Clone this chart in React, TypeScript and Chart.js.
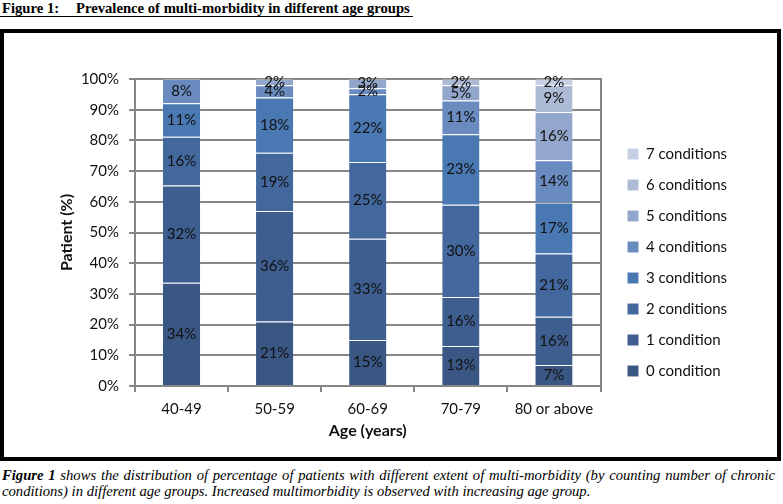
import React, { useEffect, useRef } from "react";
import { Chart, registerables } from "chart.js";

Chart.register(...registerables);

const categories = ["40-49", "50-59", "60-69", "70-79", "80 or above"];
const seriesNames = [
  "0 condition",
  "1 condition",
  "2 conditions",
  "3 conditions",
  "4 conditions",
  "5 conditions",
  "6 conditions",
  "7 conditions",
];
const cond0 = [34, 21, 15, 13, 7];
const cond1 = [32, 36, 33, 16, 16];
const cond2 = [16, 19, 25, 30, 21];
const cond3 = [11, 18, 22, 23, 17];
const cond4 = [8, 4, 2, 11, 14];
const cond5 = [0, 2, 3, 5, 16];
const cond6 = [0, 0, 0, 2, 9];
const cond7 = [0, 0, 0, 0, 2];
const seriesValues = [cond0, cond1, cond2, cond3, cond4, cond5, cond6, cond7];
const seriesColors = [
  "#3A5683",
  "#3E5E8F",
  "#43689E",
  "#4A78B2",
  "#6A8BC0",
  "#93A6CB",
  "#AEBBD7",
  "#C7CFE4",
];

const GRID = "#868686";
const TEXT = "#111111";
const FONT = "Lato";

const segLabels = {
  id: "segLabels",
  afterDatasetsDraw(chart: any) {
    const ctx = chart.ctx;
    ctx.save();
    ctx.font = `15px ${FONT}`;
    ctx.fillStyle = TEXT;
    ctx.textAlign = "center";
    ctx.textBaseline = "middle";
    chart.data.datasets.forEach((_ds: any, di: number) => {
      const meta = chart.getDatasetMeta(di);
      meta.data.forEach((el: any, i: number) => {
        const raw = seriesValues[di][i];
        if (!raw) return;
        const p = el.getProps(["x", "y", "base"], true);
        ctx.fillText(raw + "%", p.x, (p.y + p.base) / 2);
      });
    });
    ctx.restore();
  },
};

export default function App() {
  const ref = useRef<HTMLCanvasElement | null>(null);

  useEffect(() => {
    if (!ref.current) return;
    const totals = categories.map((_, i) =>
      seriesValues.reduce((s, arr) => s + arr[i], 0)
    );
    const datasets = seriesValues.map((vals, di) => ({
      label: seriesNames[di],
      data: vals.map((v, i) => (v / totals[i]) * 100),
      backgroundColor: seriesColors[di],
      borderColor: "rgba(255,255,255,0.28)",
      borderWidth: { top: 1, bottom: 0, left: 0, right: 0 },
      borderSkipped: false,
      categoryPercentage: 0.8,
      barPercentage: 0.5,
    }));
    const chart = new Chart(ref.current, {
      type: "bar",
      data: { labels: categories, datasets },
      plugins: [segLabels],
      options: {
        animation: false,
        responsive: false,
        layout: { padding: { left: 0, top: 46, right: 44, bottom: 11 } },
        plugins: {
          legend: {
            position: "right",
            align: "center",
            reverse: true,
            labels: {
              boxWidth: 11,
              boxHeight: 11,
              padding: 16,
              color: TEXT,
              font: { family: FONT, size: 15 },
            },
          },
          tooltip: { enabled: false },
        },
        scales: {
          x: {
            stacked: true,
            grid: {
              display: true,
              drawOnChartArea: false,
              drawTicks: true,
              tickLength: 6,
              color: GRID,
              lineWidth: 2,
              offset: true,
            },
            border: { display: true, color: GRID, width: 2 },
            ticks: {
              padding: 8,
              color: TEXT,
              maxRotation: 0,
              font: { family: FONT, size: 15 },
            },
            title: {
              display: true,
              text: "Age (years)",
              color: TEXT,
              font: { family: FONT, size: 16, weight: "bold" },
              padding: { top: 0, bottom: 6 },
            },
            afterFit: (s: any) => {
              s.height = 60;
            },
          },
          y: {
            stacked: true,
            min: 0,
            max: 100,
            grid: { color: GRID, lineWidth: 2, tickLength: 6 },
            border: { display: true, color: GRID, width: 2 },
            ticks: {
              stepSize: 10,
              padding: 10,
              color: TEXT,
              font: { family: FONT, size: 15 },
              callback: (v: any) => v + "%",
            },
            title: {
              display: true,
              text: "Patient (%)",
              color: TEXT,
              font: { family: FONT, size: 16, weight: "bold" },
              padding: { top: 53, bottom: 0 },
            },
            afterFit: (s: any) => {
              s.width = 131;
            },
          },
          y2: {
            position: "right",
            display: true,
            grid: { display: true, drawOnChartArea: false, drawTicks: false, color: GRID },
            ticks: { display: false },
            border: { display: true, color: GRID, width: 2 },
            afterFit: (s: any) => {
              s.width = 11;
            },
          },
        },
      } as any,
    });
    return () => chart.destroy();
  }, []);

  const serif = '"Liberation Serif", "Times New Roman", serif';

  return (
    <div
      style={{
        position: "absolute",
        left: 0,
        top: 0,
        width: 783,
        height: 504,
        background: "#fff",
        overflow: "hidden",
      }}
    >
      <span
        style={{
          position: "absolute",
          left: 2,
          top: 0,
          fontFamily: serif,
          fontWeight: "bold",
          fontSize: "14.67px",
          lineHeight: "16px",
          whiteSpace: "nowrap",
          color: "#000",
        }}
      >
        Figure 1:
      </span>
      <span
        style={{
          position: "absolute",
          left: 76,
          top: 0,
          fontFamily: serif,
          fontWeight: "bold",
          fontSize: "14.67px",
          lineHeight: "16px",
          whiteSpace: "nowrap",
          color: "#000",
        }}
      >
        Prevalence of multi-morbidity in different age groups
      </span>
      <div
        style={{
          position: "absolute",
          left: 0,
          top: 16,
          width: 413,
          height: 1,
          background: "#000",
        }}
      />
      <div
        style={{
          position: "absolute",
          left: 0,
          top: 29,
          width: 781,
          height: 432,
          boxSizing: "border-box",
          border: "4px solid #000",
        }}
      >
        <canvas ref={ref} width={773} height={424} style={{ display: "block" }} />
      </div>
      <div
        style={{
          position: "absolute",
          left: 2,
          top: 467,
          width: 773,
          fontFamily: serif,
          fontStyle: "italic",
          fontSize: "14.67px",
          lineHeight: "16px",
          color: "#000",
        }}
      >
        <div style={{ textAlign: "justify", textAlignLast: "justify", whiteSpace: "nowrap" }}>
          <b>Figure 1</b> shows the distribution of percentage of patients with different extent of
          multi-morbidity (by counting number of chronic
        </div>
        <div style={{ whiteSpace: "nowrap" }}>
          conditions) in different age groups. Increased multimorbidity is observed with increasing
          age group.
        </div>
      </div>
    </div>
  );
}
